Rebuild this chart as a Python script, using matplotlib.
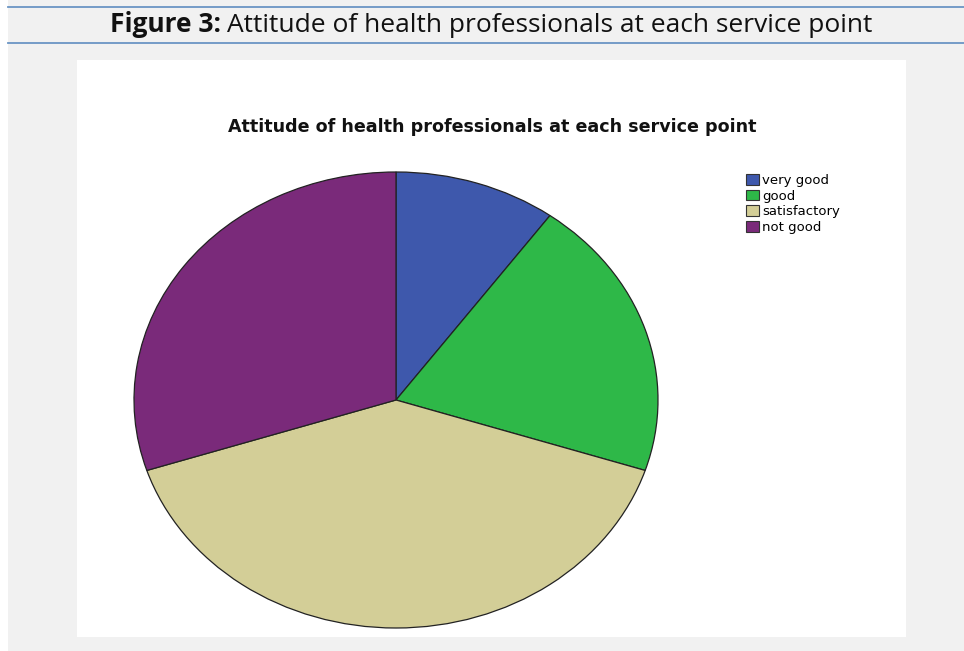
import matplotlib.pyplot as plt
from matplotlib.patches import Rectangle, Patch
from matplotlib.lines import Line2D

# Responses per category (percent)
categories = ["very good", "good", "satisfactory", "not good"]
shares = [10, 20, 40, 30]
colors = ["#3E58AC", "#2EB848", "#D3CE97", "#7A2A7A"]

W, H = 964, 651
fig = plt.figure(figsize=(W / 100, H / 100), dpi=100)
fig.patch.set_facecolor("white")


def fx(px):
    return px / W


def fy(py):
    return 1 - py / H


# grey page background and header rules
fig.patches.append(Rectangle((fx(8), 0), 1 - fx(8), 1, transform=fig.transFigure,
                             facecolor="#f1f1f1", edgecolor="none", zorder=0))
for y in (7, 43):
    fig.lines.append(Line2D([fx(8), 1], [fy(y), fy(y)], transform=fig.transFigure,
                            color="#6a95c4", lw=1.3, zorder=1))

# caption in two weights
cap_font = "Open Sans"
t1 = fig.text(fx(110), fy(25), "Figure 3:", fontsize=19, fontweight="bold",
              family=cap_font, va="center", ha="left", color="#111111")
fig.canvas.draw()
bb = t1.get_window_extent()
fig.text(bb.x1 / W + fx(6), fy(25), "Attitude of health professionals at each service point",
         fontsize=19, family=cap_font, va="center", ha="left", color="#111111")

# white chart panel
fig.patches.append(Rectangle((fx(77), fy(637)), fx(906) - fx(77), fy(60) - fy(637),
                             transform=fig.transFigure, facecolor="white",
                             edgecolor="none", zorder=1))

fig.text(fx(492), fy(127), "Attitude of health professionals at each service point",
         fontsize=12.6, fontweight="bold", family="DejaVu Sans",
         ha="center", va="center", color="#111111", zorder=3)

# pie drawn as an ellipse
ax = fig.add_axes([fx(134), fy(628), fx(658) - fx(134), fy(172) - fy(628)])
ax.pie(shares, colors=colors, startangle=90, counterclock=False,
       wedgeprops=dict(edgecolor="#222222", linewidth=0.9))
ax.set_aspect("auto")
ax.set_xlim(-1, 1)
ax.set_ylim(-1, 1)
ax.set_zorder(2)
ax.axis("off")

handles = [Patch(facecolor=c, edgecolor="#333333", linewidth=0.8) for c in colors]
fig.legend(handles, categories, loc="upper left", bbox_to_anchor=(fx(746), fy(174)),
           frameon=False, prop={"family": "DejaVu Sans", "size": 9.5},
           handlelength=1.0, handleheight=0.9, handletextpad=0.25,
           labelspacing=0.19, borderaxespad=0, borderpad=0)

fig.savefig("out.png", dpi=100)
